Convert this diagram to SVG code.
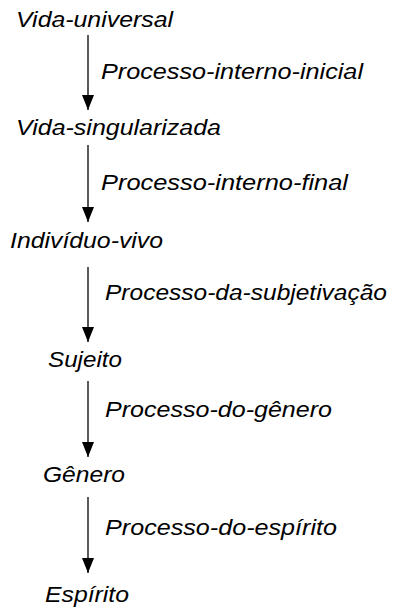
<svg xmlns="http://www.w3.org/2000/svg" width="399" height="609" viewBox="0 0 399 609">
<defs>
<style>
text{font-family:"Liberation Sans",Arial,sans-serif;font-style:italic;font-size:22.5px;fill:#000}
.c line{stroke:#000;stroke-width:1.3}
</style>
<marker id="ah" viewBox="0 0 15 12" refX="15" refY="6" markerWidth="15" markerHeight="12" markerUnits="userSpaceOnUse" orient="auto">
<path d="M0,0 L15,6 L0,12 Z" fill="#000"/>
</marker>
</defs>
<rect width="399" height="609" fill="#fff"/>
<g class="c" id="connectors">
<line x1="88" y1="35" x2="88" y2="110" marker-end="url(#ah)"/>
<line x1="88" y1="145" x2="88" y2="222" marker-end="url(#ah)"/>
<line x1="88" y1="267" x2="88" y2="342" marker-end="url(#ah)"/>
<line x1="88" y1="381" x2="88" y2="457" marker-end="url(#ah)"/>
<line x1="88" y1="497" x2="88" y2="573" marker-end="url(#ah)"/>
<text x="101" y="79" textLength="262" lengthAdjust="spacingAndGlyphs">Processo-interno-inicial</text>
<text x="101" y="190" textLength="247" lengthAdjust="spacingAndGlyphs">Processo-interno-final</text>
<text x="105" y="300" textLength="282" lengthAdjust="spacingAndGlyphs">Processo-da-subjetivação</text>
<text x="105" y="417" textLength="227" lengthAdjust="spacingAndGlyphs">Processo-do-gênero</text>
<text x="105" y="535" textLength="232" lengthAdjust="spacingAndGlyphs">Processo-do-espírito</text>
</g>
<g id="n1"><text x="16" y="27" textLength="157" lengthAdjust="spacingAndGlyphs">Vida-universal</text></g>
<g id="n2"><text x="16" y="135" textLength="205" lengthAdjust="spacingAndGlyphs">Vida-singularizada</text></g>
<g id="n3"><text x="10" y="248" textLength="153" lengthAdjust="spacingAndGlyphs">Indivíduo-vivo</text></g>
<g id="n4"><text x="48" y="367" textLength="74" lengthAdjust="spacingAndGlyphs">Sujeito</text></g>
<g id="n5"><text x="43" y="482" textLength="82" lengthAdjust="spacingAndGlyphs">Gênero</text></g>
<g id="n6"><text x="45" y="602" textLength="84" lengthAdjust="spacingAndGlyphs">Espírito</text></g>
</svg>
